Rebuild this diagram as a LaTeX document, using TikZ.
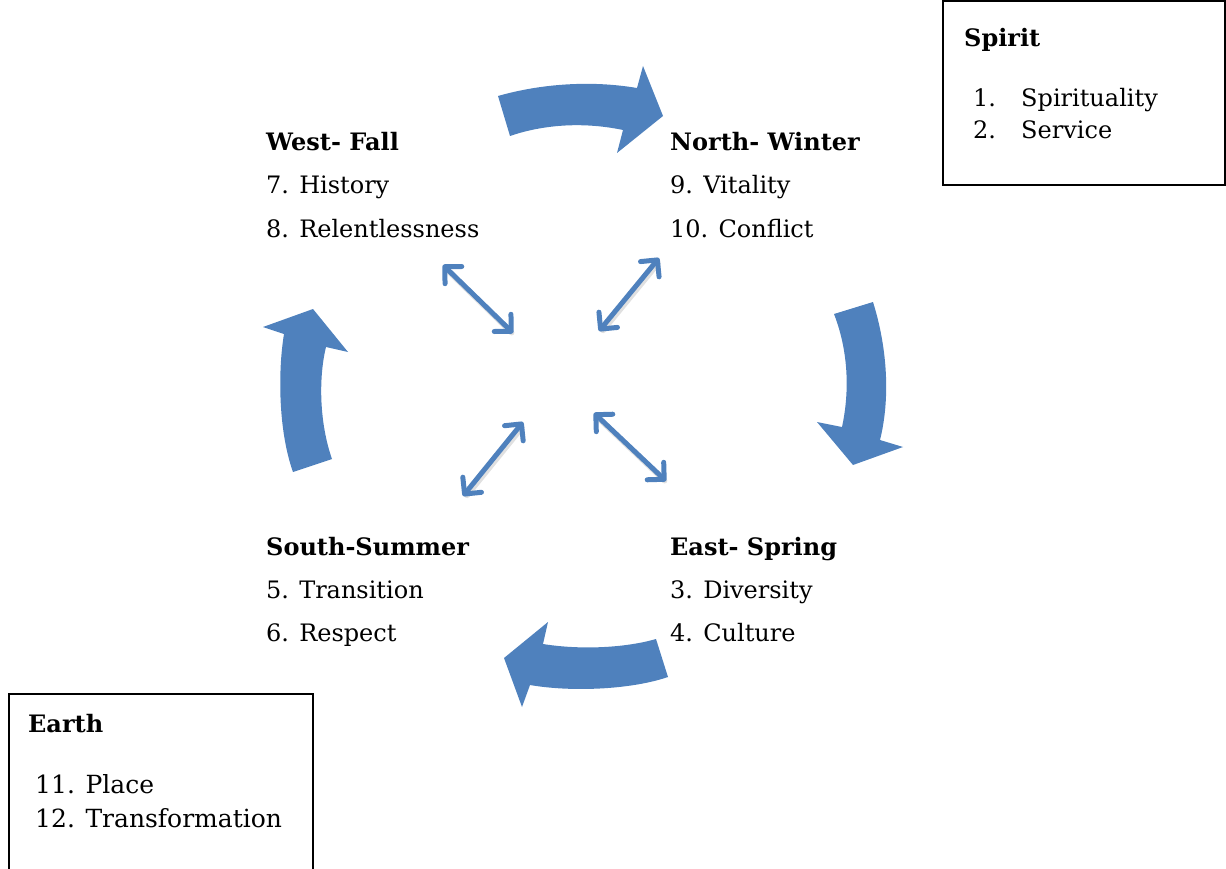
\documentclass[tikz,border=0pt]{standalone}
\usepackage{fontspec}
\setmainfont{DejaVu Serif}
\usetikzlibrary{arrows.meta}
\definecolor{accent}{RGB}{79,129,189}
\tikzset{
  lbl/.style={anchor=base west, inner sep=0pt, font=\fontsize{24}{24}\selectfont},
  hdr/.style={anchor=base west, inner sep=0pt, font=\fontsize{24}{24}\selectfont\bfseries},
  bigarrow/.style={fill=accent, draw=none},
  duo/.style={draw=accent, line width=5pt, line cap=round, line join=round,
    {Straight Barb[length=12pt,width=24pt,line width=5pt,line cap=round,line join=round]}-{Straight Barb[length=12pt,width=24pt,line width=5pt,line cap=round,line join=round]}},
  duoshadow/.style={draw=black!12, line width=5.5pt, line cap=round},
  infobox/.style={draw=black, line width=1.5pt}
}
\begin{document}
\begin{tikzpicture}[x=1pt,y=-1pt]
\useasboundingbox (0,0) rectangle (1226,869);

% info boxes
\draw[infobox] (943,1) rectangle (1225,185);
\draw[infobox] (9,694) rectangle (313,885);

\node[hdr] (spiritT) at (964,47) {Spirit};
\node[lbl] (sp1n) at (973,107) {1.};
\node[lbl] (sp1) at (1021,107) {Spirituality};
\node[lbl] (sp2n) at (973,139) {2.};
\node[lbl] (sp2) at (1021,139) {Service};

\node[hdr] (earthT) at (28,732) {Earth};
\node[lbl, font=\fontsize{25}{25}\selectfont] (ea1) at (35,793) {11. Place};
\node[lbl, font=\fontsize{25}{25}\selectfont] (ea2) at (35,827) {12. Transformation};

% quadrant labels
\node[hdr] (wT) at (266,151) {West- Fall};
\node[lbl] (w1) at (266,194) {7. History};
\node[lbl] (w2) at (266,237) {8. Relentlessness};

\node[hdr] (nT) at (670,151) {North- Winter};
\node[lbl] (n1) at (670,194) {9. Vitality};
\node[lbl] (n2) at (670,237) {10. Conflict};

\node[hdr] (sT) at (266,555) {South-Summer};
\node[lbl] (s1) at (266,598) {5. Transition};
\node[lbl] (s2) at (266,641) {6. Respect};

\node[hdr] (eT) at (670,555) {East- Spring};
\node[lbl] (e1) at (670,598) {3. Diversity};
\node[lbl] (e2) at (670,641) {4. Culture};

% big curved arrows
\path[bigarrow] (498,96) .. controls (540,84) and (590,80) .. (637,88) -- (643,66) -- (663,116) -- (617,153) -- (623,130) .. controls (585,122) and (545,124) .. (510,136) -- cycle;
\path[bigarrow] (834,314) -- (873,302) .. controls (888,350) and (890,400) .. (880,440) -- (903,447) -- (853,465) -- (817,422) -- (842,427) .. controls (850,390) and (848,350) .. (834,314) -- cycle;
\path[bigarrow] (656,639) -- (668,677) .. controls (630,690) and (570,692) .. (530,685) -- (522,707) -- (504,658) -- (548,622) -- (543,644) .. controls (580,650) and (625,648) .. (656,639) -- cycle;
\path[bigarrow] (293,472) .. controls (278,430) and (278,370) .. (284,334) -- (263,327) -- (313,309) -- (348,352) -- (326,347) .. controls (318,380) and (320,425) .. (332,459) -- cycle;

% small double arrows
\coordinate (nwA) at (443,265);
\coordinate (nwB) at (513,333);
\coordinate (neA) at (659,258);
\coordinate (neB) at (599,331);
\coordinate (swA) at (523,422);
\coordinate (swB) at (463,496);
\coordinate (seA) at (594,413);
\coordinate (seB) at (666,481);
\foreach \a/\b in {nwA/nwB,neA/neB,swA/swB,seA/seB}{
  \draw[duoshadow, shorten <=4pt, shorten >=4pt] ([shift={(1.5,2.5)}]\a) -- ([shift={(1.5,2.5)}]\b);
  \draw[duo] (\a) -- (\b);
}
\end{tikzpicture}
\end{document}
